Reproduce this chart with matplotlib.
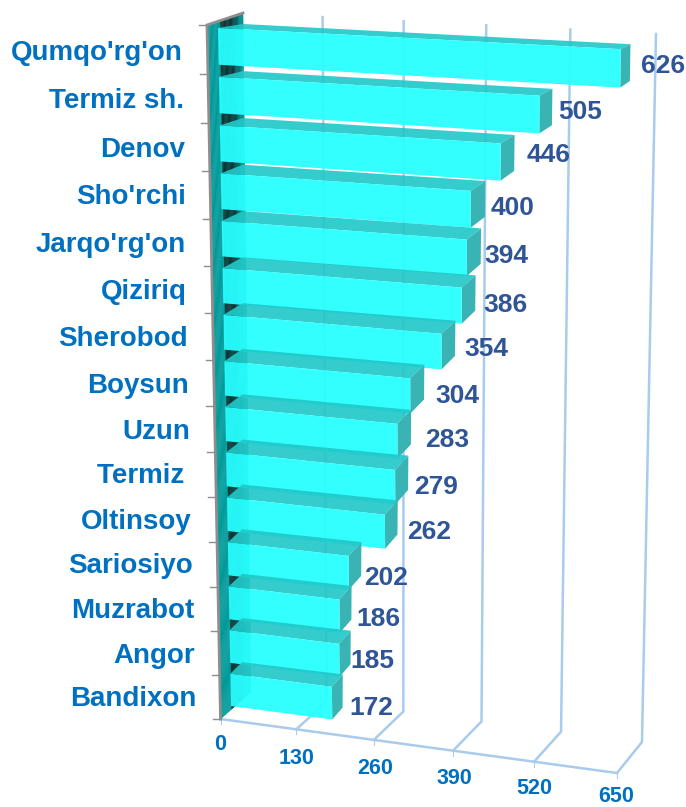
import numpy as np
from matplotlib import pyplot as plt
from matplotlib.patches import Polygon
from matplotlib.colors import to_rgb

# chart values
categories = ["Qumqo'rg'on", "Termiz sh.", "Denov", "Sho'rchi", "Jarqo'rg'on", "Qiziriq", "Sherobod", "Boysun",
              "Uzun", "Termiz ", "Oltinsoy", "Sariosiyo", "Muzrabot", "Angor", "Bandixon"]
values = [626, 505, 446, 400, 394, 386, 354, 304, 283, 279, 262, 202, 186, 185, 172]
axis_ticks = [0, 130, 260, 390, 520, 650]

# text placement in pixels (the labels were moved around by hand in the original)
cat_right = [183, 184, 185, 186, 186, 187, 188, 189, 190, 192, 192, 193, 194, 195, 196]
cat_y = [53, 101, 150, 197, 245, 292, 339, 386, 432, 476, 522, 566, 611, 656, 699]
val_x = [641, 558, 527, 491, 484, 483, 464, 435, 425, 414, 407, 364, 356, 350, 349]
val_y = [66, 112, 155, 208, 256, 305, 349, 396, 440, 487, 532, 578, 619, 661, 708]
tick_x = [220, 297, 375, 454, 534, 616]
tick_y = [745, 758, 768, 779, 789, 796.5]

VMAX = 650
GRID = '#A9CBEC'
BLUE = '#0070C0'
NAVY = '#2F5597'
FONT = 'Liberation Sans'


def homography(corners):
    """Map (u, t) in the unit square to corners TL, BL, BR, TR."""
    src = [(0, 0), (0, 1), (1, 1), (1, 0)]
    a, b = [], []
    for (u, t), (x, y) in zip(src, corners):
        a.append([u, t, 1, 0, 0, 0, -u * x, -t * x])
        a.append([0, 0, 0, u, t, 1, -u * y, -t * y])
        b += [x, y]
    return np.append(np.linalg.solve(np.array(a, float), np.array(b, float)), 1).reshape(3, 3)


def warp(t, k=0.012):
    # bar rows sit a little lower in the middle than the plane alone gives
    return t + k * t * (1 - t)


def project(h, v, t):
    p = h @ np.array([v / VMAX, t, 1.0])
    return p[0] / p[2], p[1] / p[2]


# grid planes
front_axis = homography([(207, 25), (220.5, 719), (617, 773), (630, 40)])
back_axis = homography([(243, 13), (251, 692), (642, 742), (656, 34)])
# planes of the bars: front faces and rear ends
bar_front = homography([(218, 28), (231, 706), (627, 759), (637, 50)])
bar_back = homography([(243, 24), (242, 695), (634, 744), (646, 45)])

fig = plt.figure(figsize=(6.86, 8.07), dpi=100)
ax = fig.add_axes([0, 0, 1, 1])
ax.set_xlim(0, 686)
ax.set_ylim(807, 0)
ax.axis('off')

# gridlines and floor
for v in axis_ticks:
    f = project(front_axis, v, 1)
    b_low = project(back_axis, v, 1)
    b_top = project(back_axis, v, 0)
    if v > 0:
        ax.plot([f[0], b_low[0], b_top[0]], [f[1], b_low[1], b_top[1]], color=GRID, lw=1.8, zorder=1)
    ax.plot([f[0], f[0]], [f[1], f[1] + 5], color=GRID, lw=0.8, zorder=1)
f0 = project(front_axis, 0, 1)
f1 = project(front_axis, VMAX, 1)
ax.plot([f0[0], f1[0]], [f0[1], f1[1]], color=GRID, lw=1.8, zorder=1)

# left wall with the dark band behind the bars
teal = np.array(to_rgb('#009A9A'))
dark = np.array(to_rgb('#063838'))
wall_strips = 30
for n in range(wall_strips):
    u0, u1 = n / wall_strips, (n + 1) / wall_strips
    um = (u0 + u1) / 2
    if um < 0.36:
        col = teal
    elif um < 0.70:
        col = dark
    else:
        col = dark + (teal - dark) * (um - 0.70) / 0.30
    a_top, a_low = project(front_axis, 0, 0), project(front_axis, 0, 1)
    b_top, b_low = project(back_axis, 0, 0), project(back_axis, 0, 1)
    pts = [
        (a_top[0] + (b_top[0] - a_top[0]) * u0, a_top[1] + (b_top[1] - a_top[1]) * u0),
        (a_top[0] + (b_top[0] - a_top[0]) * u1, a_top[1] + (b_top[1] - a_top[1]) * u1),
        (a_low[0] + (b_low[0] - a_low[0]) * u1, a_low[1] + (b_low[1] - a_low[1]) * u1),
        (a_low[0] + (b_low[0] - a_low[0]) * u0, a_low[1] + (b_low[1] - a_low[1]) * u0),
    ]
    ax.add_patch(Polygon(pts, closed=True, facecolor=col, edgecolor=col, lw=0.3, zorder=2))

# wall edge and category ticks
a_top, a_low = project(front_axis, 0, 0), project(front_axis, 0, 1)
b_top = project(back_axis, 0, 0)
ax.plot([a_low[0], a_top[0], b_top[0]], [a_low[1], a_top[1], b_top[1]], color='#8E8E8E', lw=2.0, zorder=3,
        solid_joinstyle='miter')
for i in range(len(categories) + 1):
    tx, ty = project(front_axis, 0, i / len(categories))
    ax.plot([tx - 8, tx], [ty, ty], color='#8E8E8E', lw=1.0, zorder=3)

# bars, top one first so the lower ones sit in front
n_rows = len(categories)
row_span = (n_rows - 1) + 36 / 48
for i, v in enumerate(values):
    t0 = warp(i / row_span)
    t1 = warp((i + 36 / 48) / row_span)
    fl_t, fr_t = project(bar_front, 0, t0), project(bar_front, v, t0)
    fl_b, fr_b = project(bar_front, 0, t1), project(bar_front, v, t1)
    bl_t, br_t = project(bar_back, 0, t0), project(bar_back, v, t0)
    br_b = project(bar_back, v, t1)
    ax.add_patch(Polygon([fl_t, bl_t, br_t, fr_t], closed=True, facecolor='#22C8C8', alpha=0.92, lw=0, zorder=4 + i))
    ax.add_patch(Polygon([fr_t, br_t, br_b, fr_b], closed=True, facecolor='#39B3B3', lw=0, zorder=4 + i))
    ax.add_patch(Polygon([fl_t, fr_t, fr_b, fl_b], closed=True, facecolor='#28FFFF', alpha=0.95, lw=0, zorder=4 + i))

# text
for name, x, y in zip(categories, cat_right, cat_y):
    ax.text(x, y, name, ha='right', va='center', fontsize=20, fontweight='bold', family=FONT, color=BLUE, zorder=30)
for v, x, y in zip(values, val_x, val_y):
    ax.text(x, y, str(v), ha='left', va='center', fontsize=19, fontweight='bold', family=FONT, color=NAVY, zorder=30)
for v, x, y in zip(axis_ticks, tick_x, tick_y):
    ax.text(x, y, str(v), ha='center', va='center', fontsize=15.5, fontweight='bold', family=FONT, color=BLUE, zorder=30)

fig.savefig('out.png', dpi=100, facecolor='white')
